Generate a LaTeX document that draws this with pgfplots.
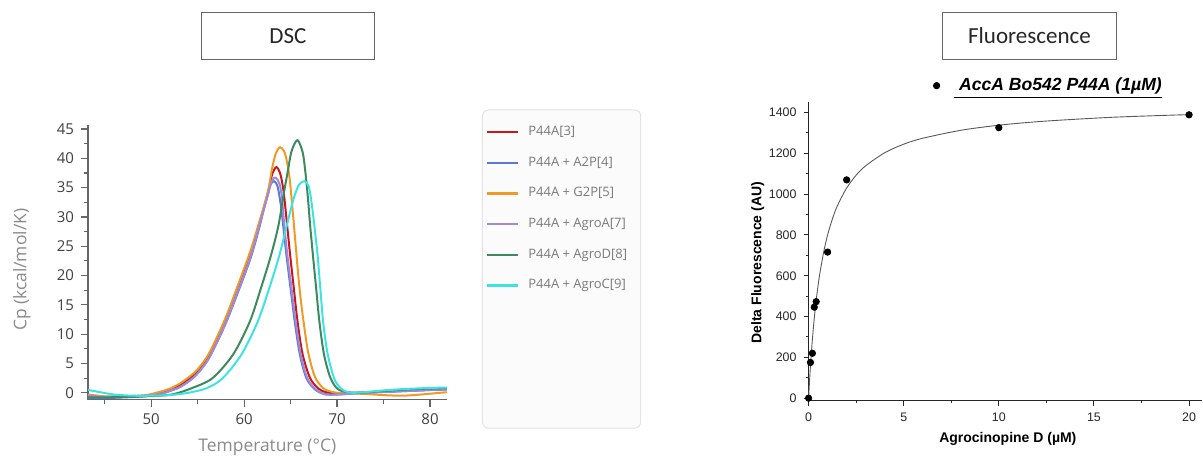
\documentclass[border=0pt]{standalone}
\usepackage{pgfplots}
\pgfplotsset{compat=1.18}
\usepackage{fontspec}
\setmainfont{Liberation Sans}
\newfontfamily\segoe{Open Sans}
\newfontfamily\calibri{Carlito}
\newfontfamily\arial{Liberation Sans}

\definecolor{cred}{HTML}{C8161D}
\definecolor{cblue}{HTML}{5A78D8}
\definecolor{corange}{HTML}{EE9A25}
\definecolor{cpurple}{HTML}{A08AD8}
\definecolor{cgreen}{HTML}{3C8A5E}
\definecolor{ccyan}{HTML}{3DE3E3}
\definecolor{axgray}{HTML}{666666}
\definecolor{labgray}{HTML}{8A8A8A}
\definecolor{leggray}{HTML}{7A7A7A}

\begin{document}
\begin{tikzpicture}
\begin{scope}[x=0.5pt,y=-0.5pt]
% page frame (pixels of the reference, origin top left)
\path (0,0) rectangle (1203,459);
% title boxes
\draw[gray!80!black, line width=0.6pt] (201.7,12.3) rectangle (374.3,59.3);
\node[font=\calibri\fontsize{11.5}{13}\selectfont, text=black!85] at (288,36) {DSC};
\draw[gray!80!black, line width=0.6pt] (943.3,12.3) rectangle (1116.7,59.3);
\node[font=\calibri\fontsize{11.5}{13}\selectfont, text=black!85] at (1030,36) {Fluorescence};
% DSC legend frame
\draw[rounded corners=3pt, draw=gray!22, fill=gray!3, line width=0.5pt] (482.7,110) rectangle (641,428.3);
\end{scope}

% ---------------- DSC ----------------
\begin{axis}[
    at={(44pt,-200pt)}, anchor=south west,
    scale only axis, width=179.5pt, height=137.5pt,
    xmin=43.2, xmax=81.8, ymin=-1.2, ymax=45.7,
    axis lines*=left,
    axis line style={axgray, line width=0.65pt},
    tick align=outside,
    major tick length=3.5pt, minor tick length=2pt,
    every tick/.style={axgray, line width=0.6pt},
    xtick={50,60,70,80}, minor xtick={45,55,65,75},
    ytick={0,5,...,45}, minor ytick={2.5,7.5,...,42.5},
    /pgf/number format/assume math mode=true,
    ticklabel style={font=\segoe\fontsize{7.5}{9}\selectfont, text=black!75},
    xlabel={Temperature (°C)},
    ylabel={Cp (kcal/mol/K)},
    label style={font=\segoe\fontsize{8.7}{10}\selectfont, text=labgray},
    xlabel style={at={(axis description cs:0.5,-0.171)}, anchor=center},
    ylabel style={at={(axis description cs:-0.184,0.473)}, anchor=center},
    legend cell align=left,
    legend style={at={(rel axis cs:1.1087,1.0138)}, anchor=north west,
        draw=none, fill=none, inner sep=0pt, row sep=4.85pt,
        font=\segoe\fontsize{6.5}{8}\selectfont, text=leggray,
        nodes={inner sep=2pt, text height=5pt, text depth=1.5pt},
        /tikz/every odd column/.append style={column sep=2.5pt}},
    legend image code/.code={\draw[#1, line width=1.1pt] (0pt,0pt) -- (15.5pt,0pt);},
]
% P44A[3]
\addplot[color=cred, line width=1pt, smooth] coordinates {
(43.2,-0.7)(45,-0.8)(47,-0.7)(49.4,-0.5)(51,-0.1)(52,0.4)(53,1.2)(54,2.3)(55,3.6)
(56.25,6.3)(57.9,11.8)(59.3,17.5)(60.7,23.5)(61.6,28.6)(62.6,34.2)(63.0,37.2)
(63.47,38.5)(63.9,37.3)(64.25,34.3)(64.6,29)(64.95,23.5)(65.35,17.8)(65.75,12.1)
(66.3,6.5)(67.1,2.5)(68,0.7)(68.8,0.1)(70,-0.1)(72,0)(75,0.2)(78,0.4)(81.8,0.6)};
% P44A + A2P[4]
\addplot[color=cblue, line width=1pt, smooth] coordinates {
(43.2,-0.9)(45,-0.9)(47,-0.8)(49.4,-0.6)(51,-0.2)(52,0.3)(53,0.9)(54,1.9)(55,3.3)
(56.25,6.0)(57.9,11.4)(59.3,17.0)(60.7,23.0)(61.6,28.0)(62.4,33.2)(62.8,35.4)
(63.2,36.1)(63.6,35.2)(63.95,32)(64.2,28.6)(64.55,23.5)(65.0,17.8)(65.45,12.1)
(66.0,6.5)(66.7,2.5)(67.6,0.6)(68.6,-0.2)(70,-0.3)(73,0)(76,0.2)(79,0.4)(81.8,0.6)};
% P44A + G2P[5]
\addplot[color=corange, line width=1pt, smooth] coordinates {
(43.2,-0.3)(45,-0.6)(47,-0.6)(49.4,-0.4)(51,0.2)(52,0.7)(53,1.5)(54,2.6)(55,4.0)
(56.25,6.8)(57.9,12.4)(59.3,18.2)(60.7,24.3)(61.6,29.0)(62.55,34.3)(63.0,38.2)
(63.4,40.8)(63.86,41.9)(64.3,41.2)(64.6,39.5)(64.9,36.5)(65.2,31.5)(65.5,26)
(65.8,20.5)(66.1,15.8)(66.45,11.5)(66.9,6.8)(67.6,2.8)(68.5,0.8)(69.6,0.1)
(71,-0.1)(73,-0.2)(75,-0.4)(77,-0.5)(79,-0.3)(81.8,0.1)};
% P44A + AgroA[7]
\addplot[color=cpurple, line width=1pt, smooth] coordinates {
(43.2,-0.5)(45,-0.7)(47,-0.6)(49.4,-0.5)(51,-0.2)(52,0.3)(53,0.9)(54,1.9)(55,3.3)
(56.25,6.0)(57.9,11.5)(59.3,17.2)(60.7,23.2)(61.6,28.3)(62.6,34.0)(63.0,36.2)
(63.4,36.7)(63.8,35.7)(64.05,33.5)(64.3,29.0)(64.65,23.5)(65.1,17.8)(65.55,12.1)
(66.1,6.5)(66.8,2.5)(67.7,0.6)(68.8,-0.3)(70,-0.3)(73,0)(76,0.2)(79,0.4)(81.8,0.6)};
% P44A + AgroD[8]
\addplot[color=cgreen, line width=1pt, smooth] coordinates {
(43.2,-0.8)(45,-0.8)(47,-0.7)(49.4,-0.6)(51,-0.5)(52.5,-0.2)(54.4,0.8)(56.6,2.5)
(58.8,6.5)(60.6,12.1)(61.8,17.8)(62.9,23.5)(63.7,28.6)(64.3,34.3)(64.7,37.8)
(65.1,41.2)(65.73,43.1)(66.3,41)(66.6,37.5)(66.85,33.5)(67.1,28.6)(67.4,23.5)
(67.75,17.8)(68.1,12.1)(68.6,6.5)(69.3,2.5)(70.2,0.5)(72,0)(75,0.3)(78,0.6)(81.8,0.8)};
% P44A + AgroC[9]
\addplot[color=ccyan, line width=1pt, smooth] coordinates {
(43.2,0.5)(44.5,0.1)(46,-0.3)(48,-0.5)(50,-0.5)(52,-0.4)(54,0)(56,0.8)(57.7,2.5)
(59.7,6.5)(61.45,12.1)(62.7,17.8)(63.8,23.5)(64.6,28.6)(65.3,33)(65.9,35.5)
(66.5,36.1)(66.95,35.2)(67.25,32.5)(67.55,28.6)(67.9,23.5)(68.2,17.8)(68.5,12.1)
(69.0,6.5)(69.8,2.0)(70.8,0.3)(72,0)(75,0.4)(78,0.7)(81.8,0.9)};
\legend{P44A[3], P44A + A2P[4], P44A + G2P[5], P44A + AgroA[7], P44A + AgroD[8], P44A + AgroC[9]}
\end{axis}

% ---------------- Fluorescence ----------------
\begin{axis}[
    at={(404.5pt,-200.5pt)}, anchor=south west,
    scale only axis, width=197pt, height=149.5pt,
    xmin=0, xmax=20.7, ymin=-13, ymax=1452,
    axis lines*=left,
    axis line style={black!85, line width=0.65pt},
    tick align=outside,
    major tick length=2.5pt, minor tick length=1.2pt,
    every tick/.style={black!85, line width=0.5pt},
    xtick={0,5,10,15,20}, minor xtick={2.5,7.5,12.5,17.5},
    ytick={0,200,...,1400}, minor ytick={100,300,...,1300},
    /pgf/number format/assume math mode=true,
    /pgf/number format/1000 sep={},
    ticklabel style={font=\arial\fontsize{6.2}{7}\selectfont, text=black!85},
    xlabel={\textbf{Agrocinopine D (µM)}},
    ylabel={\textbf{Delta Fluorescence (AU)}},
    label style={font=\arial\fontsize{7}{8}\selectfont, text=black},
    xlabel style={at={(axis description cs:0.506,-0.126)}, anchor=center},
    ylabel style={at={(axis description cs:-0.129,0.462)}, anchor=center},
    clip=false,
    legend style={at={(rel axis cs:0.316,1.0545)}, anchor=west,
        draw=none, fill=none, inner sep=0pt,
        font=\arial\fontsize{8.8}{10}\selectfont,
        nodes={inner sep=0pt},
        /tikz/every odd column/.append style={column sep=7.2pt}},
    legend image code/.code={\draw[black] plot[mark=*, mark size=1.6pt] coordinates {(0pt,0pt)};},
]
% fitted binding curve
\addplot[forget plot, gray!70!black, line width=0.45pt, smooth] coordinates {
(0,0)(0.05,84)(0.1,159)(0.2,287)(0.3,392)(0.4,479)(0.5,553)(0.6,616)(0.8,719)
(1.0,800)(1.25,878)(1.5,940)(2,1030)(2.5,1093)(3,1139)(4,1203)(5,1245)(6,1274)
(8,1313)(10,1338)(12,1355)(14,1367)(16,1377)(18,1384)(20,1390)};
% measured points
\addplot[only marks, mark=*, mark size=1.6pt, black] coordinates {
(0,0)(0.1,175)(0.2,220)(0.3,446)(0.4,473)(1,716)(2,1070)(10,1326)(20,1389)};
\legend{\underline{\textbf{\textit{\ AccA Bo542 P44A (1µM)}}}}
\end{axis}
\end{tikzpicture}
\end{document}
